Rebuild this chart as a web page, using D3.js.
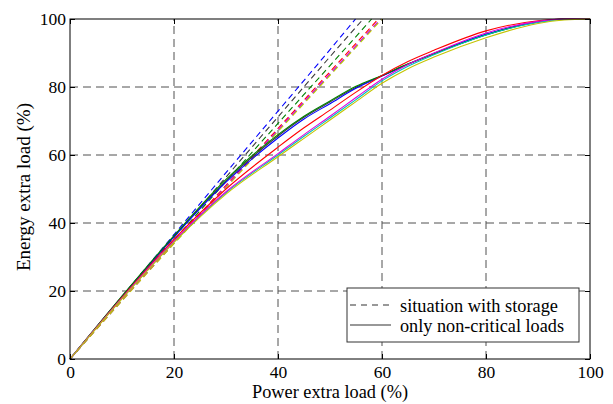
<!DOCTYPE html>
<html>
<head>
<meta charset="utf-8">
<script src="https://cdn.jsdelivr.net/npm/d3@7"></script>
<style>
  body { margin: 0; background: #fff; }
  svg { display: block; }
</style>
</head>
<body>
<svg id="chart" width="613" height="404"></svg>
<script>
// x positions (Power extra load, %) where the curves were read
const xSolid = [0, 10, 20, 30, 40, 45, 50, 55, 60, 65, 70, 80, 90, 95, 100];
const xDash = [0, 10, 20, 30, 40, 50];

// only non-critical loads (solid), energy extra load (%)
const solidK = [0, 18.4, 36.1, 52.4, 65.6, 71.1, 75.6, 79.9, 83.3, 86.7, 89.8, 95.4, 99.2, 100, 100];
const solidB = [0, 18.3, 35.9, 52.0, 65.0, 70.6, 75.1, 79.6, 83.2, 86.7, 89.9, 95.5, 99.2, 100, 100];
const solidG = [0, 18.5, 36.3, 52.8, 66.0, 71.4, 75.9, 80.2, 83.4, 86.8, 89.8, 95.3, 99.1, 100, 100];
const solidR = [0, 18.1, 35.2, 50.0, 62.3, 68.0, 73.2, 78.5, 83.4, 87.5, 90.8, 96.5, 99.5, 100, 100];
const solidM = [0, 17.9, 34.7, 49.2, 60.4, 66.0, 71.4, 76.9, 82.3, 86.6, 90.0, 95.9, 99.3, 100, 100];
const solidC = [0, 17.8, 34.5, 48.9, 60.0, 65.5, 70.9, 76.3, 81.8, 86.1, 89.5, 95.3, 99.0, 99.9, 100];
const solidY = [0, 17.7, 34.3, 48.5, 59.5, 64.9, 70.3, 75.7, 81.1, 85.4, 88.8, 94.5, 98.7, 99.7, 100];

// situation with storage (dashed); last point is where each reaches 100 %
const dashK = [0, 18.0, 35.8, 53.5, 71.2, 88.9], endK = 56.4;
const dashB = [0, 18.4, 36.6, 54.8, 72.9, 91.0], endB = 54.9;
const dashG = [0, 17.6, 35.0, 52.2, 69.3, 86.3], endG = 58.0;
const dashR = [0, 17.3, 34.3, 51.1, 67.8, 84.5], endR = 59.3;
const dashC = [0, 17.2, 34.0, 50.6, 67.2, 83.7], endC = 59.8;
const dashM = [0, 17.2, 34.1, 50.8, 67.4, 83.9], endM = 59.7;
const dashY = [0, 17.1, 33.9, 50.4, 66.9, 83.4], endY = 60.0;

const xTicks = [0, 20, 40, 60, 80, 100];
const yTicks = [0, 20, 40, 60, 80, 100];
const legendLabels = ['situation with storage', 'only non-critical loads'];

const colors = {k: '#3a3a3a', b: '#0000ff', g: '#008000', r: '#ff0000',
                c: '#00bfbf', m: '#e000e0', y: '#c4c400'};

const solids = [['k', solidK], ['b', solidB], ['g', solidG], ['r', solidR],
                ['c', solidC], ['m', solidM], ['y', solidY]];
const dashes = [['k', dashK, endK], ['b', dashB, endB], ['g', dashG, endG],
                ['r', dashR, endR], ['c', dashC, endC], ['m', dashM, endM],
                ['y', dashY, endY]];

const FONT = "'Liberation Serif'";
const margin = {left: 70, top: 19, right: 23, bottom: 45};
const W = 613, H = 404;
const svg = d3.select('#chart');

const x = d3.scaleLinear().domain([0, 100]).range([margin.left, W - margin.right]);
const y = d3.scaleLinear().domain([0, 100]).range([H - margin.bottom, margin.top]);

// keep a label at the width it has in the reference
function fitWidth(text, width) {
  text.attr('textLength', width).attr('lengthAdjust', 'spacingAndGlyphs');
}

// grid
const grid = svg.append('g')
  .attr('stroke', '#505050')
  .attr('stroke-width', 1)
  .attr('stroke-dasharray', '8,5');
grid.selectAll('.gx').data(xTicks.slice(1, -1)).enter().append('line')
  .attr('x1', d => x(d)).attr('x2', d => x(d))
  .attr('y1', y(0)).attr('y2', y(100));
grid.selectAll('.gy').data(yTicks.slice(1, -1)).enter().append('line')
  .attr('x1', x(0)).attr('x2', x(100))
  .attr('y1', d => y(d)).attr('y2', d => y(d));

const line = d3.line()
  .x(d => x(d[0]))
  .y(d => y(d[1]))
  .curve(d3.curveMonotoneX);

// dashed lines
svg.append('g').selectAll('path').data(dashes).enter().append('path')
  .attr('fill', 'none')
  .attr('stroke', d => colors[d[0]])
  .attr('stroke-width', 1.1)
  .attr('stroke-dasharray', '6,4')
  .attr('d', d => line(xDash.map((v, i) => [v, d[1][i]]).concat([[d[2], 100]])));

// solid lines
svg.append('g').selectAll('path').data(solids).enter().append('path')
  .attr('fill', 'none')
  .attr('stroke', d => colors[d[0]])
  .attr('stroke-width', 1.1)
  .attr('d', d => line(xSolid.map((v, i) => [v, d[1][i]])));

// axes box with inward ticks on all sides
const tickLen = 5;
svg.append('rect')
  .attr('x', x(0)).attr('y', y(100))
  .attr('width', x(100) - x(0)).attr('height', y(0) - y(100))
  .attr('fill', 'none').attr('stroke', '#000').attr('stroke-width', 1);

const axB = svg.append('g').attr('transform', `translate(0,${y(0)})`)
  .call(d3.axisBottom(x).tickValues(xTicks).tickSizeInner(-tickLen).tickSizeOuter(0).tickPadding(7));
const axT = svg.append('g').attr('transform', `translate(0,${y(100)})`)
  .call(d3.axisTop(x).tickValues(xTicks).tickSizeInner(-tickLen).tickSizeOuter(0).tickFormat(''));
const axL = svg.append('g').attr('transform', `translate(${x(0)},0)`)
  .call(d3.axisLeft(y).tickValues(yTicks).tickSizeInner(-tickLen).tickSizeOuter(0).tickPadding(4));
const axR = svg.append('g').attr('transform', `translate(${x(100)},0)`)
  .call(d3.axisRight(y).tickValues(yTicks).tickSizeInner(-tickLen).tickSizeOuter(0).tickFormat(''));

[axB, axT, axL, axR].forEach(a => {
  a.attr('font-family', FONT).attr('font-size', 17.5);
  a.select('.domain').remove();
  a.selectAll('line').attr('stroke', '#000');
  a.selectAll('text')
    .style('font-family', FONT)
    .attr('fill', '#000');
});

// axis titles
svg.append('text')
  .attr('x', (x(0) + x(100)) / 2).attr('y', 398)
  .attr('text-anchor', 'middle')
  .style('font-family', FONT)
  .attr('font-size', 18.3)
  .text('Power extra load (%)')
  .call(fitWidth, 156);

svg.append('text')
  .attr('transform', `translate(30,${(y(0) + y(100)) / 2 - 2}) rotate(-90)`)
  .attr('text-anchor', 'middle')
  .style('font-family', FONT)
  .attr('font-size', 18.8)
  .text('Energy extra load (%)')
  .call(fitWidth, 168);

// legend
const lg = svg.append('g').attr('transform', 'translate(347,288)');
lg.append('rect')
  .attr('width', 232).attr('height', 54)
  .attr('fill', '#fff').attr('stroke', '#333').attr('stroke-width', 1);
const legendWidths = [158, 164];
legendLabels.forEach((t, i) => {
  const ly = 17 + i * 20;
  lg.append('line')
    .attr('x1', 3).attr('x2', 44)
    .attr('y1', ly).attr('y2', ly)
    .attr('stroke', '#333').attr('stroke-width', 1.1)
    .attr('stroke-dasharray', i === 0 ? '6,5' : null);
  lg.append('text')
    .attr('x', 53).attr('y', ly + 7)
    .style('font-family', FONT)
    .attr('font-size', 18.3)
    .text(t)
    .call(fitWidth, legendWidths[i]);
});
</script>
</body>
</html>
